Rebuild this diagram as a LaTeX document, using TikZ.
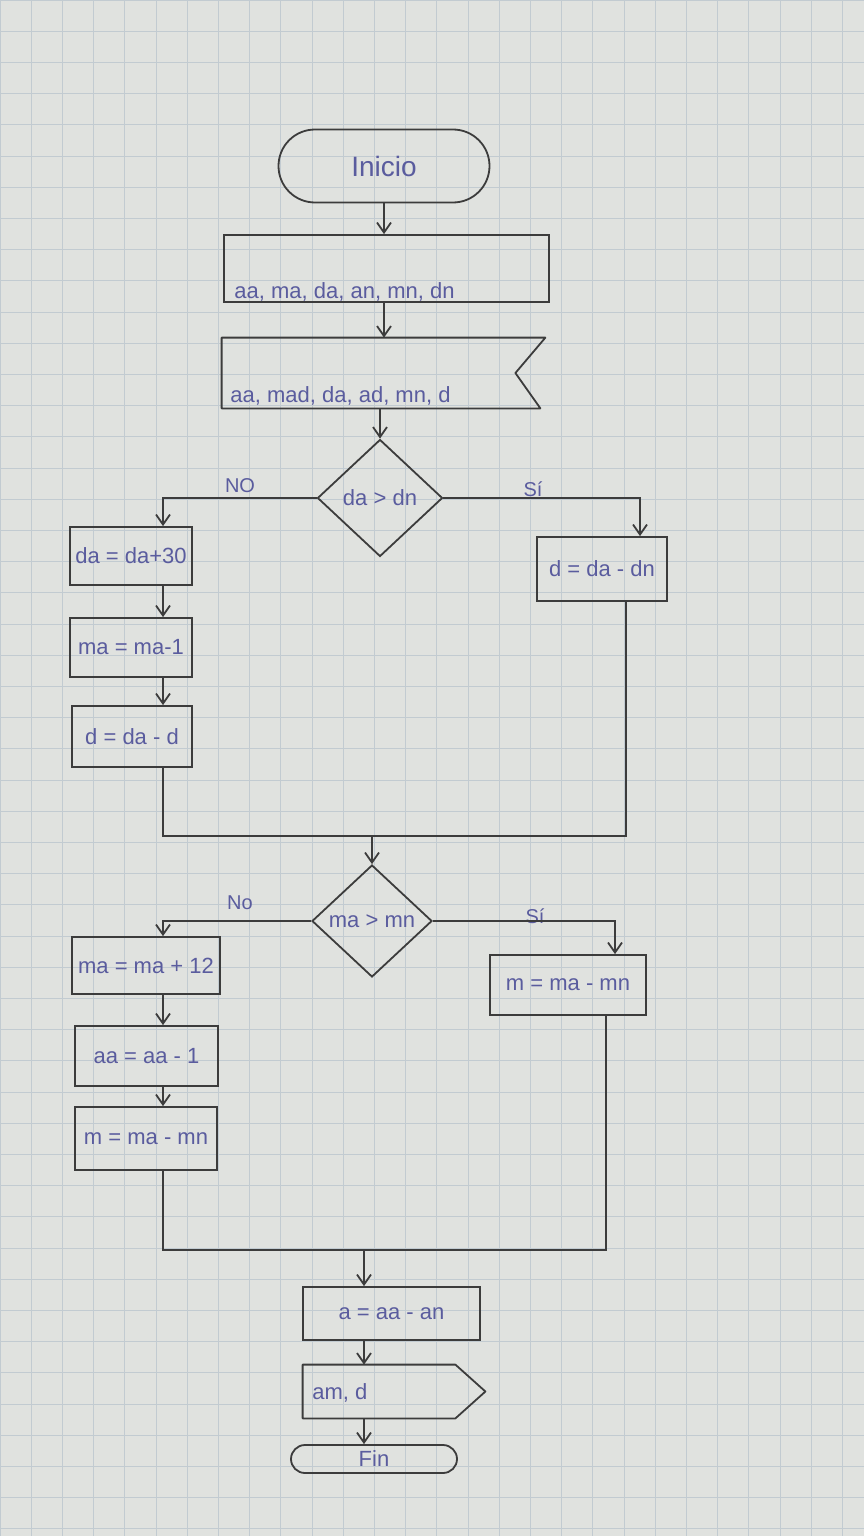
\documentclass[tikz,border=0pt]{standalone}
\usepackage{fontspec}
\setmainfont{Liberation Sans}
\usetikzlibrary{shapes.geometric,shapes.misc,arrows.meta}
\definecolor{paper}{HTML}{E0E2DF}
\definecolor{gridc}{HTML}{C2CBD1}
\definecolor{ink}{HTML}{3C3C3C}
\definecolor{pen}{HTML}{5A5C9E}
\begin{document}
\begin{tikzpicture}[x=0.5pt,y=-0.5pt,
  every node/.style={font=\fontsize{11}{12}\selectfont, text=pen, inner sep=1pt},
  proc/.style={draw=ink, line width=0.9pt, rectangle},
  term/.style={draw=ink, line width=0.9pt, rounded rectangle},
  dec/.style={draw=ink, line width=0.9pt, diamond, inner sep=0pt},
  ghost/.style={draw=none, rectangle},
  shapeline/.style={draw=ink, line width=0.9pt, line join=round},
  flow/.style={draw=ink, line width=0.9pt, -{Straight Barb[length=5pt,width=7pt]}},
  link/.style={draw=ink, line width=0.9pt},
  lbl/.style={text=pen, font=\fontsize{10}{12}\selectfont}]
\useasboundingbox (0,0) rectangle (864,1536);
\fill[paper] (0,0) rectangle (864,1536);
\draw[gridc, line width=0.5pt, step=15.6pt] (0,0) grid (864,1536);

% column coordinates
\coordinate (lc) at (163,0);
\coordinate (rc1) at (640,0);
\coordinate (rv1) at (626,0);
\coordinate (rc2) at (615,0);
\coordinate (rv2) at (606,0);
\coordinate (cc) at (364,0);

% nodes
\node[term, minimum width=107.5pt, minimum height=36.5pt, font=\fontsize{14}{16}\selectfont] (inicio) at (384,166) {Inicio};
\node[proc, minimum width=162.5pt, minimum height=33.5pt] (in1) at (386.5,268.5) {};
\node[anchor=west] (in1t) at (232,292) {aa, ma, da, an, mn, dn};
\node[ghost, minimum width=159pt, minimum height=35pt] (in2) at (381,373) {};
\draw[shapeline] (in2.north west) -- ([xshift=2.5pt]in2.north east) -- ([xshift=-12.5pt]in2.east) -- (in2.south east) -- (in2.south west) -- cycle;
\node[anchor=west] (in2t) at (228,396) {aa, mad, da, ad, mn, d};

\node[dec, minimum width=62.5pt, minimum height=58.5pt] (d1) at (380,498) {da > dn};
\node[proc, minimum width=61pt, minimum height=29pt] (b1) at (131,556) {da = da+30};
\node[proc, minimum width=61pt, minimum height=29.5pt] (b2) at (131,647.5) {ma = ma-1};
\node[proc, minimum width=60pt, minimum height=30.5pt] (b3) at (132,736.5) {d = da - d};
\node[proc, minimum width=65pt, minimum height=32pt] (r1) at (602,569) {d = da - dn};

\coordinate (m1) at (372,836);
\node[dec, minimum width=60pt, minimum height=56pt] (d2) at (372,921) {ma > mn};
\node[proc, minimum width=74pt, minimum height=28.5pt] (b4) at (146,965.5) {ma = ma + 12};
\node[proc, minimum width=71.5pt, minimum height=30pt] (b5) at (146.5,1056) {aa = aa - 1};
\node[proc, minimum width=71pt, minimum height=31.5pt] (b6) at (146,1138.5) {m = ma - mn};
\node[proc, minimum width=78pt, minimum height=30pt] (r2) at (568,985) {m = ma - mn};

\coordinate (m2) at (364,1250);
\node[proc, minimum width=88.5pt, minimum height=26.5pt] (g) at (391.5,1313.5) {a = aa - an};
\node[ghost, minimum width=91pt, minimum height=26.5pt] (disp) at (394,1391.5) {};
\draw[shapeline] (disp.north west) -- ([xshift=-15pt]disp.north east) -- (disp.east) -- ([xshift=-15pt]disp.south east) -- (disp.south west) -- cycle;
\node[anchor=west] (dispt) at (310,1393) {am, d};
\node[term, minimum width=83pt, minimum height=14pt, inner sep=0pt] (fin) at (374,1459) {Fin};

% labels
\node[lbl] (lno1) at (240,486) {NO};
\node[lbl] (lsi1) at (533,489) {Sí};
\node[lbl] (lno2) at (240,903) {No};
\node[lbl] (lsi2) at (535,916) {Sí};

% connectors
\draw[flow] (inicio.south) -- (inicio.south |- in1.north);
\draw[flow] (in1.south -| inicio.south) -- (in2.north -| inicio.south);
\draw[flow] (in2.south -| d1.north) -- (d1.north);
\draw[flow] (d1.west) -| (b1.north -| lc);
\draw[flow] (d1.east) -| (r1.north -| rc1);
\draw[flow] (b1.south -| lc) -- (b2.north -| lc);
\draw[flow] (b2.south -| lc) -- (b3.north -| lc);
\draw[link] (b3.south -| lc) |- (m1) -| (r1.south -| rv1);
\draw[flow] (m1) -- (d2.north);
\draw[flow] (d2.west) -| (b4.north -| lc);
\draw[flow] (d2.east) -| (r2.north -| rc2);
\draw[flow] (b4.south -| lc) -- (b5.north -| lc);
\draw[flow] (b5.south -| lc) -- (b6.north -| lc);
\draw[link] (b6.south -| lc) |- (m2) -| (r2.south -| rv2);
\draw[flow] (m2) -- (g.north -| cc);
\draw[flow] (g.south -| cc) -- (disp.north -| cc);
\draw[flow] (disp.south -| cc) -- (fin.north -| cc);
\end{tikzpicture}
\end{document}
